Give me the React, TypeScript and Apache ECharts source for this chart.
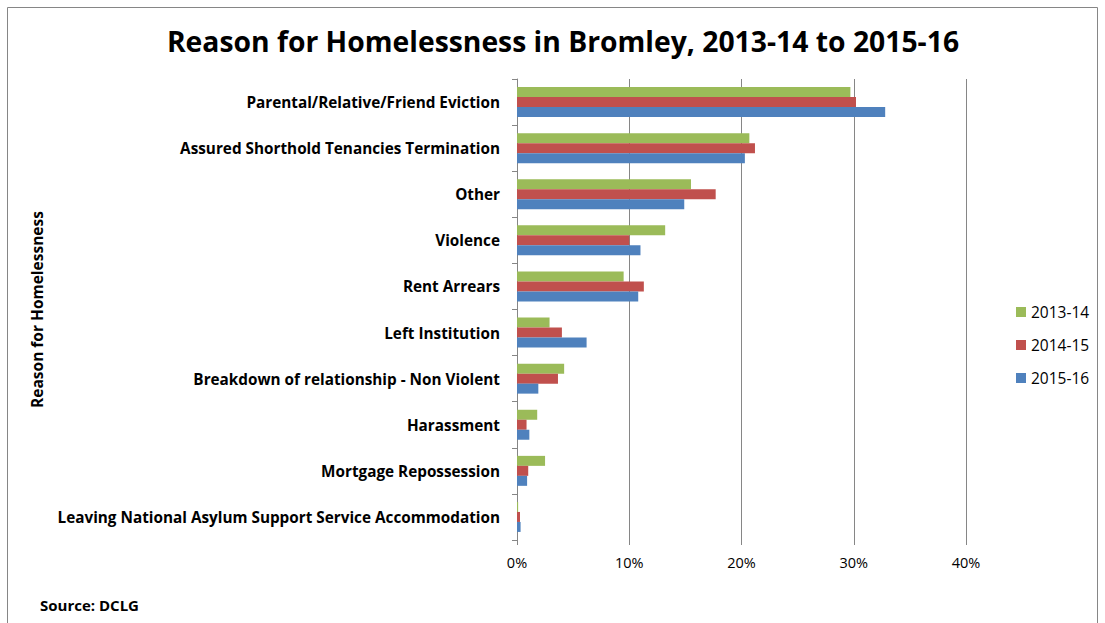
import React, { useEffect, useRef } from "react";
import * as echarts from "echarts";

const categories = [
  "Parental/Relative/Friend Eviction",
  "Assured Shorthold Tenancies Termination",
  "Other",
  "Violence",
  "Rent Arrears",
  "Left Institution",
  "Breakdown of relationship - Non Violent",
  "Harassment",
  "Mortgage Repossession",
  "Leaving National Asylum Support Service Accommodation",
];
const seriesNames = ["2013-14", "2014-15", "2015-16"];
const values2013 = [29.7, 20.7, 15.5, 13.2, 9.5, 2.9, 4.2, 1.8, 2.5, 0.1];
const values2014 = [30.2, 21.2, 17.7, 10.0, 11.3, 4.0, 3.65, 0.85, 1.0, 0.27];
const values2015 = [32.8, 20.3, 14.9, 11.0, 10.8, 6.2, 1.9, 1.1, 0.9, 0.32];
const xTicks = [0, 10, 20, 30, 40];
const colors = ["#9BBB59", "#C0504D", "#4F81BD"];

const FONT = "'Open Sans', 'Noto Sans', sans-serif";

export default function App() {
  const ref = useRef<HTMLDivElement>(null);
  useEffect(() => {
    if (!ref.current) return;
    const chart = echarts.init(ref.current, null, { renderer: "svg" });
    const data = [values2013, values2014, values2015];
    chart.setOption({
      animation: false,
      backgroundColor: "#fff",
      title: {
        text: "Reason for Homelessness in Bromley, 2013-14 to 2015-16",
        left: 558,
        textAlign: "center",
        top: 22,
        textStyle: { fontFamily: FONT, fontSize: 28.3, fontWeight: "bold", color: "#000" },
      },
      legend: {
        orient: "vertical",
        left: 1011,
        top: 299,
        itemWidth: 10,
        itemHeight: 10,
        itemGap: 17,
        icon: "rect",
        data: seriesNames,
        textStyle: { fontFamily: FONT, fontSize: 15.5, color: "#000" },
      },
      grid: { left: 517, right: 139, top: 79, bottom: 83, containLabel: false },
      xAxis: {
        type: "value",
        min: xTicks[0],
        max: xTicks[xTicks.length - 1],
        interval: 10,
        axisLine: { show: false },
        axisTick: { show: true, length: 5, lineStyle: { color: "#868686" } },
        splitLine: { show: true, lineStyle: { color: "#868686", width: 1 } },
        axisLabel: {
          formatter: "{value}%",
          fontFamily: FONT,
          fontSize: 14.5,
          color: "#000",
          margin: 15,
        },
      },
      yAxis: {
        type: "category",
        inverse: true,
        data: categories,
        name: "Reason for Homelessness",
        nameLocation: "middle",
        nameRotate: 90,
        nameGap: 472,
        nameTextStyle: { fontFamily: FONT, fontSize: 15.5, fontWeight: "bold", color: "#000" },
        axisLine: { show: true, lineStyle: { color: "#868686" } },
        axisTick: { show: true, length: 5, lineStyle: { color: "#868686" } },
        axisLabel: {
          fontFamily: FONT,
          fontSize: 15.3,
          fontWeight: "bold",
          color: "#000",
          margin: 17,
          interval: 0,
          verticalAlign: "middle",
          padding: [0, 0, 2, 0],
        },
      },
      graphic: [
        {
          type: "rect",
          shape: { x: 7.5, y: 7.5, width: 1090, height: 640 },
          style: { fill: "none", stroke: "#868686", lineWidth: 1 },
          silent: true,
        },
        {
          type: "text",
          left: 40,
          top: 597,
          style: { text: "Source: DCLG", font: `bold 15px ${FONT}`, fill: "#000" },
        },
      ],
      series: seriesNames.map((name, i) => ({
        name,
        type: "bar",
        data: data[i],
        barGap: "0%",
        barCategoryGap: "35%",
        itemStyle: { color: colors[i] },
      })),
    });
    return () => chart.dispose();
  }, []);
  return (
    <div
      ref={ref}
      style={{ position: "fixed", left: 0, top: 0, width: 1105, height: 623 }}
    />
  );
}
